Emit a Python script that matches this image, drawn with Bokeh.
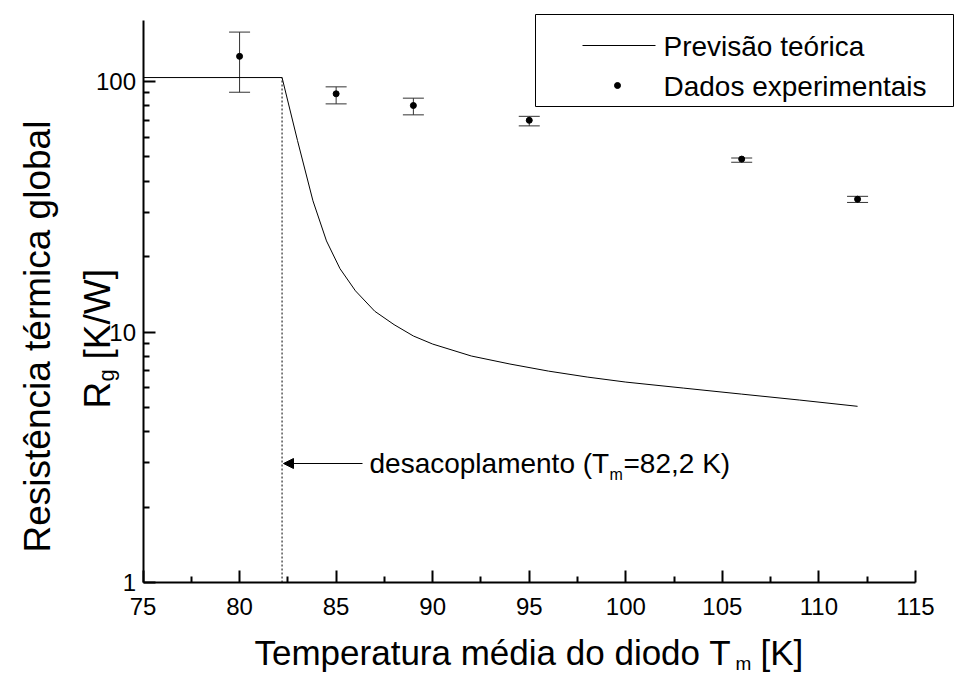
import math
from bokeh.plotting import figure
from bokeh.models import (Range1d, FixedTicker, PrintfTickFormatter, BoxAnnotation, Label,
                          Arrow, NormalHead, Whisker, TeeHead, ColumnDataSource)
from bokeh.embed import file_html
from bokeh.resources import INLINE

# ---------------- data ----------------
T_theory = [75.0, 82.2, 83.0, 83.8, 84.5, 85.2, 86.0, 87.0, 88.0, 89.0, 90.0,
            92.0, 94.0, 96.0, 98.0, 100.0, 103.0, 106.0, 109.0, 112.0]
R_theory = [103.7, 103.7, 58.1, 33.4, 23.1, 17.9, 14.6, 12.1, 10.7, 9.64, 8.95,
            8.02, 7.45, 6.98, 6.61, 6.31, 5.97, 5.65, 5.35, 5.05]

T_exp = [80, 85, 89, 95, 106, 112]
R_exp = [126.0, 89.3, 80.2, 70.0, 49.0, 33.9]
R_exp_hi = [157.5, 95.2, 85.8, 72.6, 49.5, 34.8]
R_exp_lo = [90.6, 81.4, 73.6, 66.5, 47.6, 32.9]

T_decoupling = 82.2
R_plateau = 103.7

x_ticks = [75, 80, 85, 90, 95, 100, 105, 110, 115]
x_minor = [77.5, 82.5, 87.5, 92.5, 97.5, 102.5, 107.5, 112.5]
y_ticks = [1, 10, 100]
y_minor = [2, 3, 4, 5, 6, 7, 8, 9, 20, 30, 40, 50, 60, 70, 80, 90]
x_axis_bounds = (75, 115)
y_axis_bounds = (1, 175)

FONT = "Liberation Sans"

# ---------------- layout (pixels) ----------------
W, H = 957, 676
X_PX0, X_PX1 = 142.5, 915.0     # pixel columns of x = 75 and x = 115
Y_PX_ONE, DECADE = 582.0, 250.5  # pixel row of y = 1, pixels per decade
sx = (X_PX1 - X_PX0) / (x_axis_bounds[1] - x_axis_bounds[0])
x_range = Range1d(x_axis_bounds[0] - X_PX0 / sx, x_axis_bounds[0] + (W - X_PX0) / sx)
y_range = Range1d(10 ** (-(H - Y_PX_ONE) / DECADE), 10 ** (Y_PX_ONE / DECADE))

p = figure(width=W, height=H, x_range=x_range, y_range=y_range, y_axis_type="log",
           output_backend="svg", toolbar_location=None,
           min_border_left=0, min_border_right=0, min_border_top=0, min_border_bottom=0)
p.min_border = 0
p.outline_line_color = None
p.grid.visible = False
p.background_fill_color = "white"
p.border_fill_color = "white"

xa, ya = p.xaxis[0], p.yaxis[0]
for ax in (xa, ya):
    ax.axis_line_width = 2
    ax.major_tick_line_width = 2
    ax.minor_tick_line_width = 2
    ax.major_tick_in = 12
    ax.major_tick_out = 0
    ax.minor_tick_in = 6
    ax.minor_tick_out = 0
    ax.major_label_text_font = FONT
    ax.major_label_text_font_size = "24px"
    ax.major_label_text_color = "black"
    ax.axis_label = None

xa.ticker = FixedTicker(ticks=x_ticks, minor_ticks=x_minor)
xa.bounds = x_axis_bounds
xa.fixed_location = y_axis_bounds[0]
xa.major_label_standoff = 15
ya.ticker = FixedTicker(ticks=y_ticks, minor_ticks=y_minor)
ya.formatter = PrintfTickFormatter(format="%d")
ya.bounds = y_axis_bounds
ya.fixed_location = x_axis_bounds[0]
ya.major_label_standoff = 7

# theory curve
p.line(T_theory, R_theory, line_color="black", line_width=1)

# decoupling dotted line
p.segment(x0=[T_decoupling], y0=[y_axis_bounds[0]], x1=[T_decoupling], y1=[R_plateau],
          line_color="black", line_width=1, line_dash="2 2")

# experimental points with error bars
src = ColumnDataSource(dict(T=T_exp, R=R_exp, hi=R_exp_hi, lo=R_exp_lo))
wh = Whisker(source=src, base="T", upper="hi", lower="lo", line_color="#333333", line_width=1,
             upper_head=TeeHead(size=21, line_color="#333333", line_width=1),
             lower_head=TeeHead(size=21, line_color="#333333", line_width=1))
p.add_layout(wh)
p.scatter("T", "R", source=src, size=6, color="black")


def lab(text, px, py, size, align="left", angle=0.0):
    return Label(x=px, y=H - py, x_units="screen", y_units="screen", text=text,
                 text_font=FONT, text_font_size=f"{size}px", text_align=align,
                 text_baseline="middle", angle=angle, text_color="black")


# ---------------- legend (drawn by hand) ----------------
p.add_layout(BoxAnnotation(left=535, right=953, top=H - 14, bottom=H - 106,
                           left_units="screen", right_units="screen", top_units="screen",
                           bottom_units="screen", fill_alpha=0, line_color="black",
                           line_width=1, line_alpha=1))
p.add_layout(Arrow(start=None, end=None, x_start=582, y_start=H - 45, x_end=655, y_end=H - 45,
                   start_units="screen", end_units="screen", line_width=1, line_color="black"))
p.add_layout(BoxAnnotation(left=614, right=620, top=H - 82, bottom=H - 88,
                           left_units="screen", right_units="screen", top_units="screen",
                           bottom_units="screen", fill_color="black", fill_alpha=1,
                           line_color="black", line_width=1, line_alpha=1, border_radius=3))
p.add_layout(lab("Previsão teórica", 663, 46, 28))
p.add_layout(lab("Dados experimentais", 663, 86, 28))

# ---------------- annotation arrow + text ----------------
p.add_layout(Arrow(end=NormalHead(size=10, fill_color="black", line_color="black"),
                   x_start=362, y_start=H - 463, x_end=283, y_end=H - 463,
                   start_units="screen", end_units="screen", line_width=1))
p.add_layout(lab("desacoplamento (T", 369, 463, 28))
p.add_layout(lab("m", 609, 474, 16))
p.add_layout(lab("=82,2 K)", 623, 463, 28))

# ---------------- axis titles ----------------
p.add_layout(lab("Temperatura média do diodo T", 254, 652, 35))
p.add_layout(lab("m", 735, 663, 19))
p.add_layout(lab("[K]", 760, 652, 35))

A = math.pi / 2
p.add_layout(lab("Resistência térmica global", 37, 552, 37, angle=A))
p.add_layout(lab("R", 97, 408, 37, angle=A))
p.add_layout(lab("g", 106, 381, 22, angle=A))
p.add_layout(lab("[K/W]", 97, 359, 37, angle=A))

open("out.html", "w").write(file_html(p, INLINE))
